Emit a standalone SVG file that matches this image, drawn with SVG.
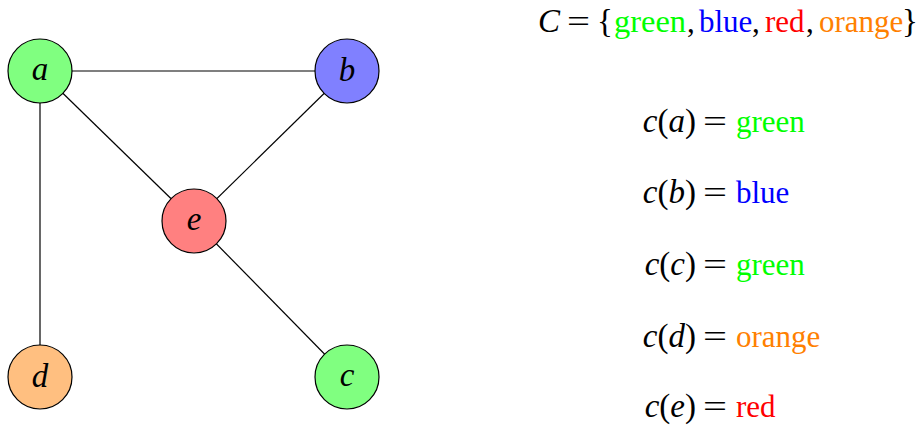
<svg xmlns="http://www.w3.org/2000/svg" width="923" height="425" viewBox="0 0 923 425">
<style>
.n{stroke:#000;stroke-width:1.2}
.e{stroke:#000;stroke-width:1.2;fill:none}
.lab{font-family:"Liberation Serif",serif;font-style:italic;font-size:33px;text-anchor:middle;fill:#000}
.t{font-family:"Liberation Serif",serif;font-size:31px;fill:#000}
.m{font-family:"Liberation Serif",serif;font-size:33px;fill:#000}
.i{font-style:italic}
.g{fill:#00ff00}.b{fill:#0000ff}.r{fill:#ff0000}.o{fill:#ff8000}
</style>
<rect width="923" height="425" fill="#fff"/>
<g id="edges">
<line class="e" x1="40" y1="71" x2="347" y2="71"/>
<line class="e" x1="40" y1="71" x2="194" y2="221"/>
<line class="e" x1="347" y1="71" x2="194" y2="221"/>
<line class="e" x1="40" y1="71" x2="40" y2="377"/>
<line class="e" x1="194" y1="221" x2="347" y2="377"/>
</g>
<g id="node-a"><circle class="n" cx="40" cy="71" r="32" fill="#80ff80"/><text class="lab" x="40" y="80">a</text></g>
<g id="node-b"><circle class="n" cx="347" cy="71" r="32" fill="#8080ff"/><text class="lab" x="347" y="81">b</text></g>
<g id="node-e"><circle class="n" cx="194" cy="221" r="32" fill="#ff8080"/><text class="lab" x="194" y="230">e</text></g>
<g id="node-d"><circle class="n" cx="40" cy="377" r="32" fill="#ffbf80"/><text class="lab" x="40" y="387">d</text></g>
<g id="node-c"><circle class="n" cx="347" cy="377" r="32" fill="#80ff80"/><text class="lab" x="347" y="386">c</text></g>
<g id="legend">
<text class="m i" x="538" y="32">C</text>
<text class="t" x="567" y="32" textLength="23" lengthAdjust="spacingAndGlyphs">=</text>
<text class="m" x="597" y="32">{</text>
<text class="t g" x="614" y="32" textLength="72" lengthAdjust="spacingAndGlyphs">green</text>
<text class="t" x="687" y="32">,</text>
<text class="t b" x="699" y="32">blue</text>
<text class="t" x="752" y="32">,</text>
<text class="t r" x="765" y="32">red</text>
<text class="t" x="806" y="32">,</text>
<text class="t o" x="819" y="32">orange</text>
<text class="m" x="902" y="32">}</text>

<text class="m" x="696" y="132" text-anchor="end"><tspan class="i">c</tspan>(<tspan class="i">a</tspan>)</text>
<text class="t" x="703" y="132" textLength="24" lengthAdjust="spacingAndGlyphs">=</text>
<text class="t g" x="736" y="132">green</text>

<text class="m" x="696" y="203" text-anchor="end"><tspan class="i">c</tspan>(<tspan class="i">b</tspan>)</text>
<text class="t" x="703" y="203" textLength="24" lengthAdjust="spacingAndGlyphs">=</text>
<text class="t b" x="736" y="203">blue</text>

<text class="m" x="696" y="275" text-anchor="end"><tspan class="i">c</tspan>(<tspan class="i">c</tspan>)</text>
<text class="t" x="703" y="275" textLength="24" lengthAdjust="spacingAndGlyphs">=</text>
<text class="t g" x="736" y="275">green</text>

<text class="m" x="696" y="347" text-anchor="end"><tspan class="i">c</tspan>(<tspan class="i">d</tspan>)</text>
<text class="t" x="703" y="347" textLength="24" lengthAdjust="spacingAndGlyphs">=</text>
<text class="t o" x="736" y="347">orange</text>

<text class="m" x="696" y="417" text-anchor="end"><tspan class="i">c</tspan>(<tspan class="i">e</tspan>)</text>
<text class="t" x="703" y="417" textLength="24" lengthAdjust="spacingAndGlyphs">=</text>
<text class="t r" x="736" y="417">red</text>
</g>
</svg>
